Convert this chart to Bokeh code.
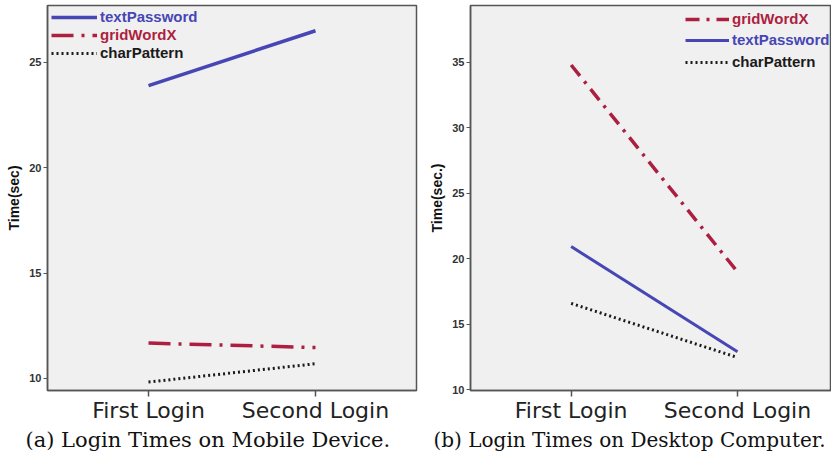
from bokeh.plotting import figure
from bokeh.models import Legend, LegendItem, Title, FixedTicker
from bokeh.layouts import row
from bokeh.embed import file_html
from bokeh.resources import INLINE

# ---- data ----
logins = ["First Login", "Second Login"]
x_pos = [0, 1]

mobile_text = [23.9, 26.5]
mobile_grid = [11.68, 11.47]
mobile_char = [9.83, 10.7]

desk_grid = [34.8, 19.0]
desk_text = [20.94, 12.9]
desk_char = [16.6, 12.47]

mobile_ticks = [10, 15, 20, 25]
desk_ticks = [10, 15, 20, 25, 30, 35]

BLUE = "#4646b4"
RED = "#ad1f40"
BLACK = "#1a1a1a"
BG = "#f0f0f0"


def make_fig(width, border_left, border_right, x_range, y_range, yticks, ylabel,
             caption, cap_offset, cap_size):
    p = figure(width=width, height=451, output_backend="svg", toolbar_location=None,
               x_range=x_range, y_range=y_range,
               min_border_left=border_left, min_border_right=border_right,
               min_border_top=5, min_border_bottom=0)
    p.background_fill_color = BG
    p.border_fill_color = "white"
    p.outline_line_color = "#555555"
    p.outline_line_width = 1.5
    p.grid.visible = False

    p.xaxis.ticker = FixedTicker(ticks=x_pos)
    p.xaxis.major_label_overrides = {x: lab for x, lab in zip(x_pos, logins)}
    p.xaxis.major_label_text_font = "DejaVu Sans"
    p.xaxis.major_label_text_font_size = "22px"
    p.xaxis.major_label_text_color = "#222222"
    p.xaxis.major_tick_out = 6
    p.xaxis.major_tick_in = 0
    p.xaxis.minor_tick_line_color = None
    p.xaxis.axis_line_color = "#555555"
    p.xaxis.axis_line_width = 1.5
    p.xaxis.major_tick_line_color = "#555555"
    p.xaxis.major_tick_line_width = 1.5
    p.xaxis.major_label_standoff = 1

    p.yaxis.ticker = FixedTicker(ticks=yticks)
    p.yaxis.major_label_text_font = "Liberation Sans"
    p.yaxis.major_label_text_font_size = "11px"
    p.yaxis.major_label_text_font_style = "bold"
    p.yaxis.major_label_text_color = "#333333"
    p.yaxis.major_tick_out = 4
    p.yaxis.major_tick_in = 0
    p.yaxis.minor_tick_line_color = None
    p.yaxis.axis_line_color = "#555555"
    p.yaxis.axis_line_width = 1.5
    p.yaxis.major_tick_line_color = "#555555"
    p.yaxis.major_label_standoff = 2
    p.yaxis.axis_label = ylabel
    p.yaxis.axis_label_text_font = "Liberation Sans"
    p.yaxis.axis_label_text_font_size = "14px"
    p.yaxis.axis_label_text_font_style = "bold"
    p.yaxis.axis_label_text_color = "#111111"
    p.yaxis.axis_label_standoff = 4

    t = Title(text=caption, align="left", text_font="DejaVu Serif",
              text_font_size=cap_size, text_font_style="normal", text_color="#111111",
              standoff=0, offset=cap_offset)
    p.add_layout(t, "below")
    return p


def add_legend(p, renderer, label, color, x, y, glyph_width):
    leg = Legend(items=[LegendItem(label=label, renderers=[renderer])],
                 location=(x, y), padding=0, margin=0, spacing=0,
                 glyph_width=glyph_width, glyph_height=16, label_height=16,
                 label_standoff=3, label_text_font="Liberation Sans",
                 label_text_font_size="15px", label_text_font_style="bold",
                 label_text_color=color, background_fill_alpha=0,
                 border_line_alpha=0, label_text_baseline="middle")
    p.add_layout(leg)


# ---- (a) mobile ----
p1 = make_fig(420, 47, 4, (-0.605, 1.605), (9.43, 27.7), mobile_ticks, "Time(sec)",
              "(a) Login Times on Mobile Device.", -22, "21px")
r1t = p1.line(x_pos, mobile_text, line_color=BLUE, line_width=3.5)
r1g = p1.line(x_pos, mobile_grid, line_color=RED, line_width=3.5, line_dash="22 8 3 8")
r1c = p1.line(x_pos, mobile_char, line_color=BLACK, line_width=3, line_dash="2 3")
add_legend(p1, r1t, "textPassword", BLUE, 4, 365, 46)
add_legend(p1, r1g, "gridWordX", RED, 4, 347, 46)
add_legend(p1, r1c, "charPattern", BLACK, 4, 329, 46)

# ---- (b) desktop ----
p2 = make_fig(411, 50, 0, (-0.605, 1.565), (9.95, 39.34), desk_ticks, "Time(sec.)",
              "(b) Login Times on Desktop Computer.", -37, "20px")
r2g = p2.line(x_pos, desk_grid, line_color=RED, line_width=3.5, line_dash="14 7 3 7")
r2t = p2.line(x_pos, desk_text, line_color=BLUE, line_width=3)
r2c = p2.line(x_pos, desk_char, line_color=BLACK, line_width=3, line_dash="2 3")
add_legend(p2, r2g, "gridWordX", RED, 215, 363, 44)
add_legend(p2, r2t, "textPassword", BLUE, 215, 342, 44)
add_legend(p2, r2c, "charPattern", BLACK, 215, 320, 44)

layout = row(p1, p2, spacing=0)
open("out.html", "w").write(file_html(layout, INLINE))
